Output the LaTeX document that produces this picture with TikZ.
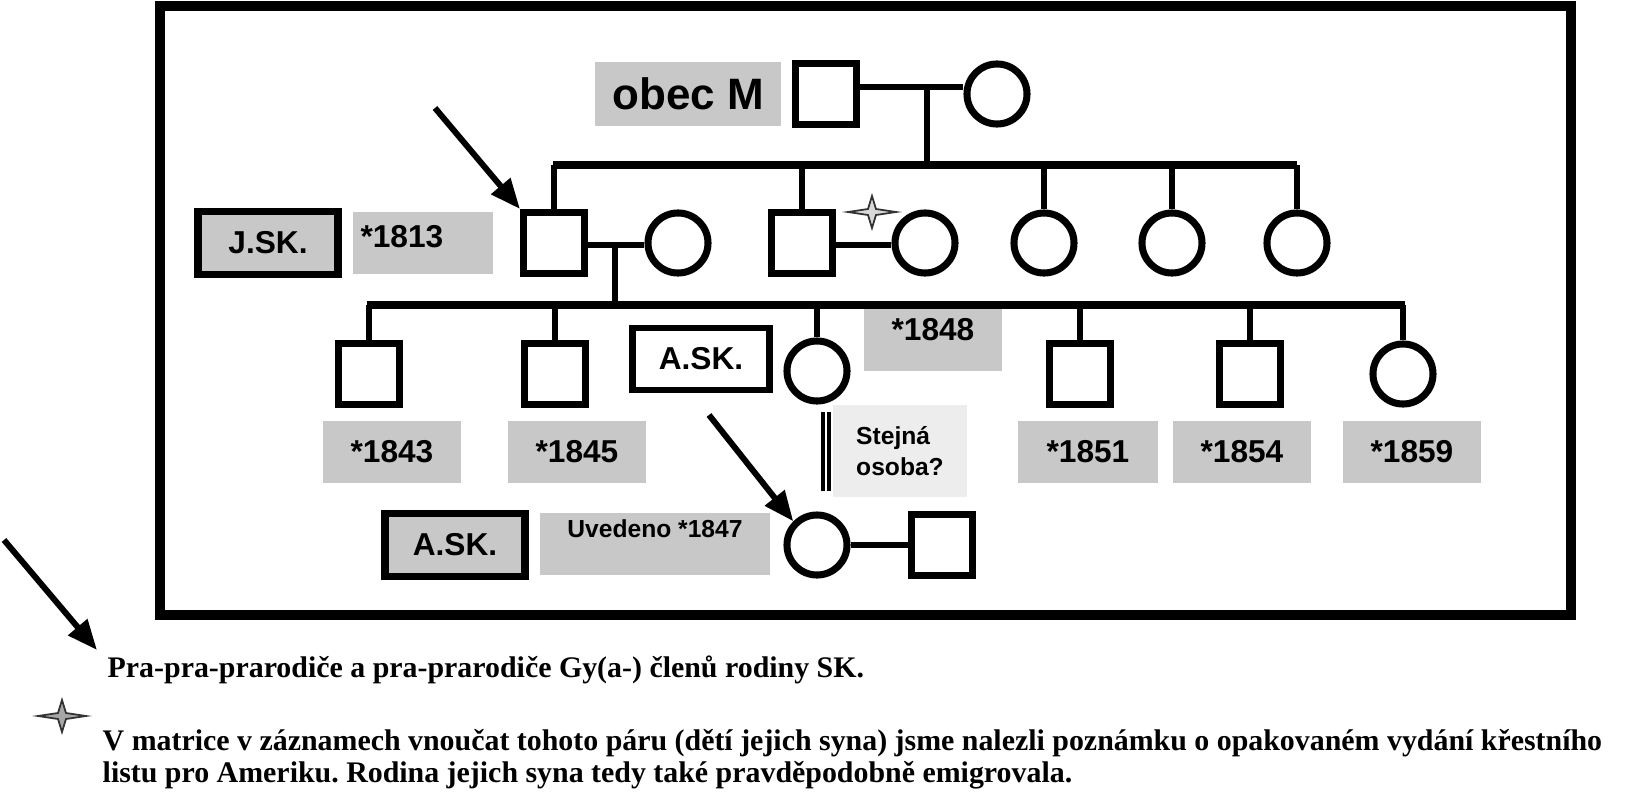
\documentclass[tikz,border=0pt]{standalone}
\usepackage{fontspec}
\setmainfont{Liberation Serif}
\newfontfamily\arialfont{Liberation Sans}
\usepackage{xcolor}
\usetikzlibrary{arrows.meta, positioning, calc}
\frenchspacing

\definecolor{boxgray}{HTML}{C8C8C8}
\definecolor{notegray}{HTML}{EDEDED}

% four-pointed star
\newcommand{\sparkle}[3]{%
  \filldraw[fill=#3, draw=black!80, line width=0.5pt, shift={(#1,#2)}]
    (24,0) -- (4,3) -- (0,16) -- (-4,3) -- (-24,0) -- (-4,-3) -- (0,-16) -- (4,-3) -- cycle;}

\begin{document}
\begin{tikzpicture}[
    x=0.01cm, y=-0.01cm,
    male/.style={draw, line width=2pt, rectangle, inner sep=0pt, minimum size=0.61cm},
    female/.style={draw, line width=2pt, circle, inner sep=0pt, minimum size=0.6cm},
    tag/.style={fill=boxgray, inner sep=0pt, font=\arialfont\bfseries\fontsize{9}{10}\selectfont},
    namebox/.style={draw, line width=1.8pt, inner sep=0pt, font=\arialfont\bfseries\fontsize{9}{10}\selectfont},
    link/.style={line width=1.8pt},
    pointer/.style={line width=1.7pt, -{Triangle[length=0.3cm, width=0.24cm]}},
]
\useasboundingbox (0,0) rectangle (1635,800);
\draw[line width=2.6pt] (160,6) rectangle (1571,615);

% generation 1
\node[tag, minimum width=1.86cm, minimum height=0.64cm, font=\arialfont\bfseries\fontsize{12.5}{14}\selectfont] (obec) at (688,94) {obec M};
\node[male] (p1) at (826,94) {};
\node[female] (p2) at (997,94) {};
\draw[link] (p1.east |- 0,87) -- (p2.west |- 0,87);
\coordinate (sibA) at (553,165);
\coordinate (sibB) at (1297,165);
\draw[link] (927,87) -- (927,165);
\draw[line width=2.2pt] (sibA) -- (sibB);

% generation 2
\node[namebox, fill=boxgray, line width=2.2pt, minimum width=1.4cm, minimum height=0.63cm] (jsk) at (268,243) {J.SK.};
\node[tag, minimum width=1.4cm, minimum height=0.62cm, text depth=0pt, align=left] (b1813) at (423,243) {\raisebox{4pt}{*1813}\hspace{12pt}};
\node[male] (js) at (554,243) {};
\node[female] (jw) at (678,243) {};
\node[male] (s2) at (802,243) {};
\node[female] (w2) at (925,243) {};
\node[female] (d1) at (1044,243) {};
\node[female] (d2) at (1172,243) {};
\node[female] (d3) at (1297,243) {};
\foreach \n in {js,s2,d1,d2,d3}
  \draw[link] (\n.north) -- (\n.north |- sibA);
\draw[link] (js.east |- 0,245) -- (jw.west |- 0,245);
\draw[link] (s2.east |- 0,245) -- (w2.west |- 0,245);
\sparkle{872}{212}{gray!30}

% generation 3
\coordinate (sibC) at (367,305);
\coordinate (sibD) at (1405,305);
\draw[link] (615,245) -- (615,305);
\draw[line width=2.2pt] (sibC) -- (sibD);
\node[male] (c1) at (369,374) {};
\node[male] (c2) at (555,374) {};
\node[female] (c3) at (817,371) {};
\node[male] (c4) at (1080,374) {};
\node[male] (c5) at (1250,374) {};
\node[female] (c6) at (1403,374) {};
\foreach \n in {c1,c2,c3,c4,c5,c6}
  \draw[link] (\n.north) -- (\n.north |- sibC);
\node[namebox, fill=white, minimum width=1.37cm, minimum height=0.62cm] (ask1) at (701,359) {A.SK.};
\node[tag, minimum width=1.38cm, minimum height=0.62cm] (b1848) at (933,340) {\raisebox{6pt}{*1848}\hspace{10pt}};
\node[tag, minimum width=1.38cm, minimum height=0.61cm] (b1843) at (392,452) {*1843\hspace{10pt}};
\node[tag, minimum width=1.38cm, minimum height=0.61cm] (b1845) at (577,452) {*1845\hspace{10pt}};
\node[tag, minimum width=1.39cm, minimum height=0.61cm] (b1851) at (1088,452) {*1851\hspace{10pt}};
\node[tag, minimum width=1.38cm, minimum height=0.61cm] (b1854) at (1242,452) {*1854\hspace{10pt}};
\node[tag, minimum width=1.38cm, minimum height=0.61cm] (b1859) at (1412,452) {*1859\hspace{10pt}};
\node[fill=notegray, inner sep=0pt, minimum width=1.33cm, minimum height=0.92cm, align=left,
      font=\arialfont\bfseries\fontsize{7}{9}\selectfont] (same) at (900,451) {Stejná\\osoba?\hspace{6pt}};
\draw[line width=0.9pt] (823,412) -- (823,491);
\draw[line width=0.9pt] (829,412) -- (829,491);

% generation 4
\node[namebox, fill=boxgray, line width=2.2pt, minimum width=1.4cm, minimum height=0.63cm] (ask2) at (455,545) {A.SK.};
\node[tag, minimum width=2.3cm, minimum height=0.62cm, font=\arialfont\bfseries\fontsize{7}{9}\selectfont] (uved) at (655,544) {\raisebox{9pt}{Uvedeno *1847}\hspace{12pt}};
\node[female] (g1) at (817,545) {};
\node[male] (g2) at (942,545) {};
\draw[link] (g1) -- (g2);

% arrows
\coordinate (a1) at (435,108);
\coordinate (a2) at (709,415);
\coordinate (a3) at (4,540);
\draw[pointer] (a1) -- (js.north west);
\draw[pointer] (a2) -- (g1.north west);
\draw[pointer] (a3) -- (97,650);

% legend
\node[anchor=base west, inner sep=0pt, font=\bfseries\fontsize{8.5}{10}\selectfont] (leg1) at (107,677)
  {Pra-pra-prarodiče a pra-prarodiče Gy(a-) členů rodiny SK.};
\sparkle{62}{716}{gray!70}
\node[anchor=north west, inner sep=0pt, align=left, font=\bfseries\fontsize{8.5}{9.1}\selectfont] (leg2) at (102,729)
  {V matrice v záznamech vnoučat tohoto páru (dětí jejich syna) jsme nalezli poznámku o opakovaném vydání křestního\\
   listu pro Ameriku. Rodina jejich syna tedy také pravděpodobně emigrovala.};
\end{tikzpicture}
\end{document}
